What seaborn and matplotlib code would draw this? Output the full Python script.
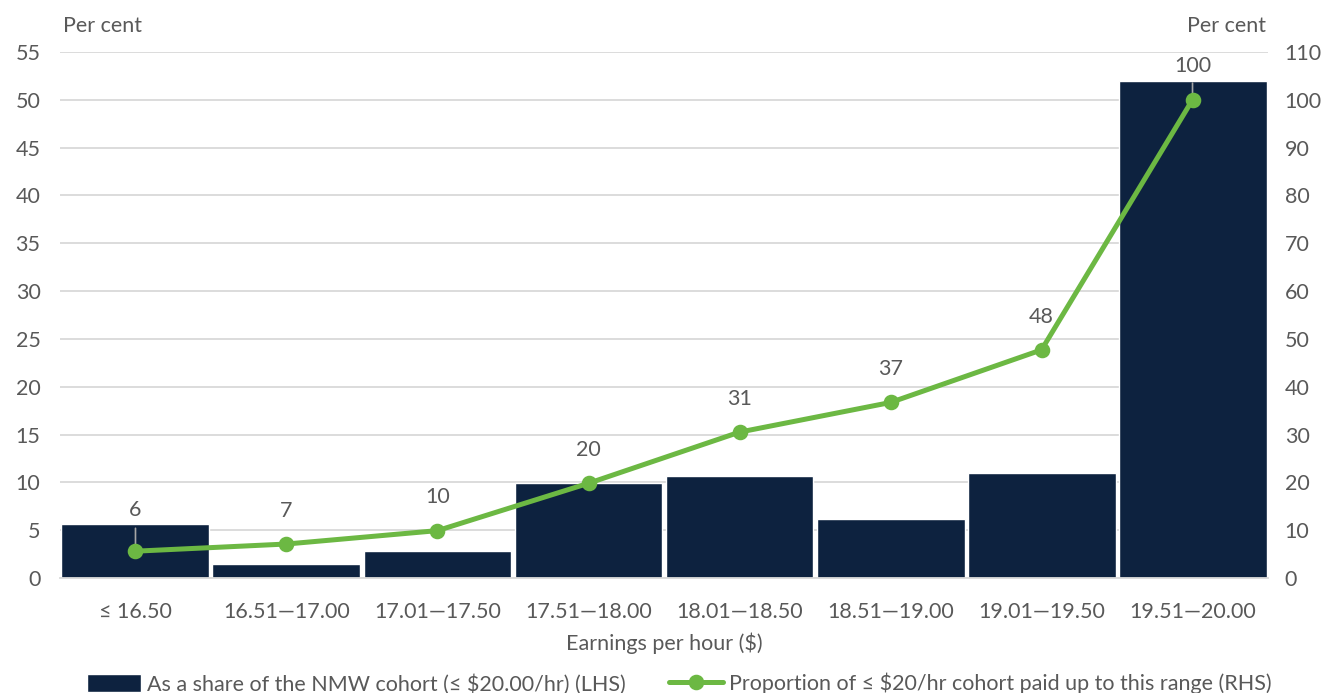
import matplotlib
matplotlib.use('Agg')
import matplotlib.pyplot as plt
import seaborn as sns
import pandas as pd

earnings_bands = ['≤ 16.50', '16.51—17.00', '17.01—17.50', '17.51—18.00',
                  '18.01—18.50', '18.51—19.00', '19.01—19.50', '19.51—20.00']
share_of_cohort = [5.6, 1.5, 2.8, 9.9, 10.7, 6.2, 11.0, 52.0]
cumulative_share = [5.6, 7.1, 9.9, 19.8, 30.5, 36.7, 47.7, 100.0]
cumulative_labels = ['6', '7', '10', '20', '31', '37', '48', '100']

bar_name = 'As a share of the NMW cohort (≤ $20.00/hr) (LHS)'
line_name = 'Proportion of ≤ $20/hr cohort paid up to this range (RHS)'

navy = '#0d223f'
green = '#6cb843'
grey_text = '#595959'
fs = 15.5

sns.set_style('white')
plt.rcParams['font.family'] = ['Lato', 'DejaVu Sans']

df = pd.DataFrame({'band': earnings_bands, 'share': share_of_cohort,
                   'cum': cumulative_share})

fig = plt.figure(figsize=(13.3, 6.93), dpi=100)
ax = fig.add_axes([0.0451, 0.166, 0.9083, 0.759])

sns.barplot(data=df, x='band', y='share', color=navy, saturation=1,
            width=0.98, ax=ax, label=bar_name, zorder=2)
ax.set_ylim(0, 55)
ax.set_yticks(range(0, 56, 5))
ax.yaxis.grid(True, color='#d9d9d9', linewidth=1.3, zorder=0)
ax.set_axisbelow(True)

ax2 = ax.twinx()
sns.pointplot(data=df, x='band', y='cum', color=green, markers='o',
              markersize=8.5, linewidth=3.6, ax=ax2, label=line_name)
ax2.set_ylim(0, 110)
ax2.set_yticks(range(0, 111, 10))
ax.set_xlim(-0.5, len(earnings_bands) - 0.5)

for a in (ax, ax2):
    for s in a.spines.values():
        s.set_visible(False)
    a.tick_params(axis='both', length=0, labelsize=fs, colors=grey_text)
    a.set_ylabel('')
ax.spines['bottom'].set_visible(True)
ax.spines['bottom'].set_color('#d9d9d9')
ax.spines['bottom'].set_linewidth(1.3)
ax.tick_params(axis='x', pad=17)
ax.tick_params(axis='y', pad=14)
ax2.tick_params(axis='y', pad=12)

ax.set_xlabel('Earnings per hour ($)', fontsize=fs, color=grey_text, labelpad=8)

# data labels (points); first label pushed up a little with a leader line
for i, (v, lab) in enumerate(zip(cumulative_share, cumulative_labels)):
    off = 29.5 if i == 0 else 24
    ax2.annotate(lab, (i, v), xytext=(0, off), textcoords='offset points',
                 ha='center', va='center', fontsize=fs, color=grey_text)
    if i == 0 or i == len(cumulative_share) - 1:
        top = 16.5 if i == 0 else 12
        ax2.annotate('', (i, v), xytext=(0, top), textcoords='offset points',
                     arrowprops=dict(arrowstyle='-', color='#a6a6a6', lw=1.2,
                                     shrinkA=0, shrinkB=0), zorder=1)

fig.text(0.0474, 0.962, 'Per cent', fontsize=fs, color=grey_text, ha='left', va='center')
fig.text(0.952, 0.962, 'Per cent', fontsize=fs, color=grey_text, ha='right', va='center')

h1, l1 = ax.get_legend_handles_labels()
h2, l2 = ax2.get_legend_handles_labels()
if ax.get_legend():
    ax.get_legend().remove()
if ax2.get_legend():
    ax2.get_legend().remove()
fig.legend(h1 + h2, l1 + l2, loc='lower center', bbox_to_anchor=(0.511, -0.03),
           ncol=2, frameon=False, fontsize=fs, labelcolor=grey_text,
           handlelength=2.5, handleheight=0.9, handletextpad=0.3, columnspacing=2.0)

fig.savefig('out.png', dpi=100)
